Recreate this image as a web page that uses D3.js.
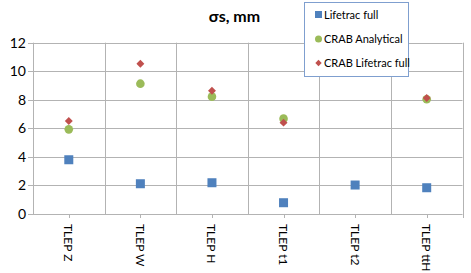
<!DOCTYPE html>
<html>
<head>
  <meta charset="utf-8">
  <script src="https://cdnjs.cloudflare.com/ajax/libs/d3/7.8.5/d3.min.js"></script>
  <style>
    body { margin: 0; background: #fff; }
    text { font-family: Lato, "Open Sans", sans-serif; fill: #000; }
  </style>
</head>
<body>
<script>
  // chart data
  var categories = ["TLEP Z", "TLEP W", "TLEP H", "TLEP t1", "TLEP t2", "TLEP ttH"];
  var lifetracFull = [3.8, 2.12, 2.19, 0.79, 2.03, 1.84];
  var crabAnalytical = [5.93, 9.13, 8.22, 6.68, null, 8.04];
  var crabLifetrac = [6.52, 10.53, 8.64, 6.4, null, 8.13];
  var yTicks = [0, 2, 4, 6, 8, 10, 12];
  var seriesNames = ["Lifetrac full", "CRAB Analytical", "CRAB Lifetrac full"];

  function draw() {
    var width = 471, height = 273;
    var plotLeft = 33, plotRight = 462.5, plotTop = 42.7, plotBottom = 214;

    var svg = d3.select("body").append("svg")
      .attr("width", width)
      .attr("height", height);

    var x = d3.scaleBand().domain(categories).range([plotLeft, plotRight]);
    var y = d3.scaleLinear().domain([0, 12]).range([plotBottom, plotTop]);

    var grid = "#b3b3b3";
    var blue = "#4F81BD", green = "#9BBB59", red = "#C0504D";

    // horizontal gridlines (with small ticks to the left)
    svg.selectAll(".hgrid").data(yTicks).enter().append("line")
      .attr("x1", plotLeft - 5).attr("x2", plotRight)
      .attr("y1", function(d) { return Math.round(y(d)) + 0.5; })
      .attr("y2", function(d) { return Math.round(y(d)) + 0.5; })
      .attr("stroke", grid);

    // vertical gridlines at category boundaries
    var bounds = categories.map(function(c) { return x(c); }).concat([plotRight]);
    svg.selectAll(".vgrid").data(bounds).enter().append("line")
      .attr("x1", function(d) { return Math.round(d) + 0.5; })
      .attr("x2", function(d) { return Math.round(d) + 0.5; })
      .attr("y1", plotTop).attr("y2", plotBottom)
      .attr("stroke", grid);

    // ticks below the x axis at category centres and the right end
    var tickXs = categories.map(function(c) { return x(c) + x.bandwidth() / 2; }).concat([plotRight]);
    svg.selectAll(".xtick").data(tickXs).enter().append("line")
      .attr("x1", function(d) { return Math.round(d) + 0.5; })
      .attr("x2", function(d) { return Math.round(d) + 0.5; })
      .attr("y1", plotBottom).attr("y2", plotBottom + 4)
      .attr("stroke", grid);

    // y tick labels
    svg.selectAll(".ylab").data(yTicks).enter().append("text")
      .attr("x", 26)
      .attr("y", function(d) { return y(d) + 5; })
      .attr("text-anchor", "end")
      .style("font-size", "14px")
      .text(function(d) { return d; });

    // x labels, rotated
    svg.selectAll(".xlab").data(categories).enter().append("text")
      .attr("transform", function(d) {
        return "translate(" + (x(d) + x.bandwidth() / 2 - 4.5) + ",224) rotate(90)";
      })
      .style("font-size", "12px")
      .text(function(d) { return d; });

    // title
    svg.append("text")
      .attr("x", 234.5).attr("y", 22)
      .attr("text-anchor", "middle")
      .style("font-size", "16px")
      .style("font-weight", "bold")
      .text("σs, mm");

    function cx(i) { return x(categories[i]) + x.bandwidth() / 2; }

    // Lifetrac full - squares
    lifetracFull.forEach(function(d, i) {
      svg.append("rect")
        .attr("x", cx(i) - 4.5).attr("y", y(d) - 4.5)
        .attr("width", 9).attr("height", 9)
        .attr("fill", blue);
    });

    // CRAB Analytical - circles
    crabAnalytical.forEach(function(d, i) {
      if (d == null) return;
      svg.append("circle")
        .attr("cx", cx(i)).attr("cy", y(d))
        .attr("r", 4.3)
        .attr("fill", green);
    });

    // CRAB Lifetrac full - diamonds
    var diamond = d3.symbol().type(d3.symbolDiamond2).size(40);
    crabLifetrac.forEach(function(d, i) {
      if (d == null) return;
      svg.append("path")
        .attr("d", diamond())
        .attr("transform", "translate(" + cx(i) + "," + y(d) + ")")
        .attr("fill", red);
    });

    // legend
    var lg = svg.append("g");
    lg.append("rect")
      .attr("x", 304.5).attr("y", 2.5)
      .attr("width", 104).attr("height", 74)
      .attr("fill", "#fff")
      .attr("stroke", "#7f9fcf");
    var lyPos = [14.5, 39, 63];
    lg.append("rect").attr("x", 315).attr("y", lyPos[0] - 3.5).attr("width", 7).attr("height", 7).attr("fill", blue);
    lg.append("circle").attr("cx", 318.5).attr("cy", lyPos[1]).attr("r", 3.5).attr("fill", green);
    lg.append("path").attr("d", d3.symbol().type(d3.symbolDiamond2).size(26)())
      .attr("transform", "translate(318.5," + lyPos[2] + ")").attr("fill", red);
    seriesNames.forEach(function(n, i) {
      lg.append("text")
        .attr("x", 324).attr("y", lyPos[i] + 4)
        .style("font-size", "11px")
        .text(n);
    });
  }

  draw();
</script>
</body>
</html>
